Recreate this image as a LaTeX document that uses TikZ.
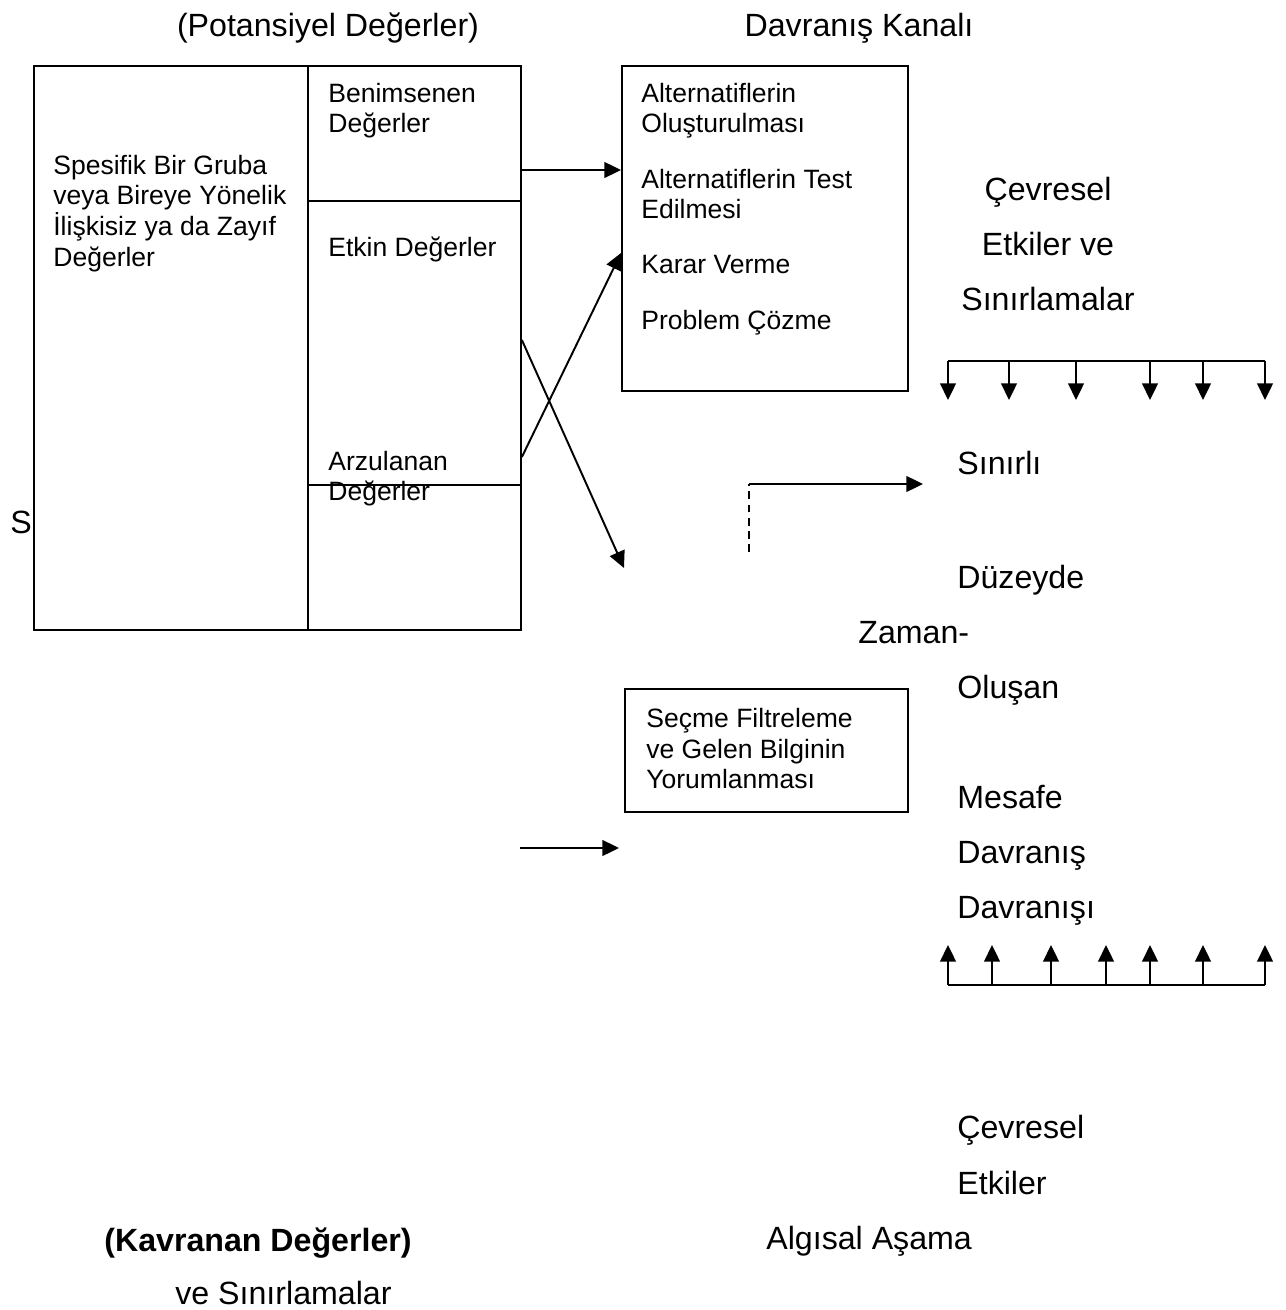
\documentclass[tikz,border=0pt]{standalone}
\usepackage{fontspec}
\setmainfont{Liberation Sans}
\usetikzlibrary{arrows.meta}
\begin{document}
\begin{tikzpicture}[x=0.02cm,y=-0.02cm,
  big/.style={inner sep=0pt, font=\fontsize{18.3}{21}\selectfont},
  small/.style={inner sep=0pt, align=left, font=\fontsize{15.1}{17.6}\selectfont},
  cell/.style={draw, line width=1.1pt, inner sep=0pt, anchor=north west},
  conn/.style={line width=1.1pt, -{Triangle[length=9.5pt,width=9pt]}},
  rail/.style={line width=1.1pt},
]
% page frame
\useasboundingbox (0,0) rectangle (1285,1310);

% value column: group-related values on the left, three value levels on the right
\node[cell, minimum width=5.48cm, minimum height=11.28cm] (group) at (33,65) {};
\node[cell, minimum width=4.26cm, minimum height=2.70cm] (adopted) at (307,65) {};
\node[cell, minimum width=4.26cm, minimum height=5.68cm] (active) at (307,200) {};
\node[cell, minimum width=4.26cm, minimum height=2.90cm] (desired) at (307,484) {};

% behaviour channel and perception filter boxes
\node[cell, minimum width=5.72cm, minimum height=6.50cm] (channel) at (621,65) {};
\node[cell, minimum width=5.66cm, minimum height=2.46cm] (filter) at (624,688) {};

% headings
\node[big, anchor=base] (potential) at (328,37) {(Potansiyel Değerler)};
\node[big, anchor=base] (channeltitle) at (859,37) {Davranış Kanalı};

% texts inside the value column
\node[small, anchor=north west] (grouptext) at (53,154.5)
  {Spesifik Bir Gruba\\veya Bireye Yönelik\\İlişkisiz ya da Zayıf\\Değerler};
\node[small, anchor=north west] (adoptedtext) at (328,82.5) {Benimsenen\\Değerler};
\node[small, anchor=north west] (activetext) at (328,236.5) {Etkin Değerler};
\node[small, anchor=north west] (desiredtext) at (328,450.5) {Arzulanan\\Değerler};
\node[big, anchor=base west] (sletter) at (10,533) {S};

% texts inside the behaviour channel
\node[small, anchor=north west] (alt1) at (641,82.5) {Alternatiflerin\\Oluşturulması};
\node[small, anchor=north west] (alt2) at (641,168.5) {Alternatiflerin Test\\Edilmesi};
\node[small, anchor=north west] (decide) at (641,254.5) {Karar Verme};
\node[small, anchor=north west] (solve) at (641,309.5) {Problem Çözme};

% perception filter text
\node[small, anchor=north west] (filtertext) at (646,707.5)
  {Seçme Filtreleme\\ve Gelen Bilginin\\Yorumlanması};

% environmental influences (top)
\node[big, anchor=north, align=center, font=\fontsize{18.3}{31.3}\selectfont] (envtop) at (1048,176.5)
  {Çevresel\\Etkiler ve\\Sınırlamalar};

% right-hand column of words
\node[big, anchor=base west] (w1) at (957,474.5) {Sınırlı};
\node[big, anchor=base west] (w2) at (957,588.5) {Düzeyde};
\node[big, anchor=base west] (w3) at (858,643.5) {Zaman-};
\node[big, anchor=base west] (w4) at (957,698.5) {Oluşan};
\node[big, anchor=base west] (w5) at (957,808.5) {Mesafe};
\node[big, anchor=base west] (w6) at (957,863.5) {Davranış};
\node[big, anchor=base west] (w7) at (957,918.5) {Davranışı};
\node[big, anchor=base west] (w8) at (957,1138.5) {Çevresel};
\node[big, anchor=base west] (w9) at (957,1194.5) {Etkiler};

% bottom captions
\node[big, anchor=base west, font=\fontsize{18.3}{21}\selectfont\bfseries] (perceived) at (104,1251) {(Kavranan Değerler)};
\node[big, anchor=base west] (limits) at (175,1304) {ve Sınırlamalar};
\node[big, anchor=base west] (stage) at (766,1249.5) {Algısal Aşama};

% connectors from the value column
\draw[conn] (adopted.east |- 0,170) -- (channel.west |- 0,170);
\draw[conn] (active.east |- 0,457) -- (channel.west |- 0,253);
\coordinate (crossend) at (624,568);
\draw[conn] (active.east |- 0,340) -- (crossend);

% dashed riser turning into an arrow
\coordinate (dashfoot) at (749,552);
\coordinate (dashtop) at (749,484);
\coordinate (dashtip) at (923,484);
\draw[rail, dash pattern=on 4.5pt off 3pt] (dashfoot) -- (dashtop);
\draw[conn] (dashtop) -- (dashtip);

% lower feed arrow
\coordinate (feedstart) at (520,848);
\coordinate (feedend) at (619,848);
\draw[conn] (feedstart) -- (feedend);

% top rail with downward arrows
\coordinate (toprailL) at (948,361);
\coordinate (toprailR) at (1265,361);
\draw[rail] (toprailL) -- (toprailR);
\foreach \x in {948,1009,1076,1150,1203,1265}
  \draw[conn] (\x,361) -- (\x,400);

% bottom rail with upward arrows
\coordinate (botrailL) at (948,985);
\coordinate (botrailR) at (1265,985);
\draw[rail] (botrailL) -- (botrailR);
\foreach \x in {948,992,1051,1106,1150,1203,1265}
  \draw[conn] (\x,985) -- (\x,945);
\end{tikzpicture}
\end{document}
